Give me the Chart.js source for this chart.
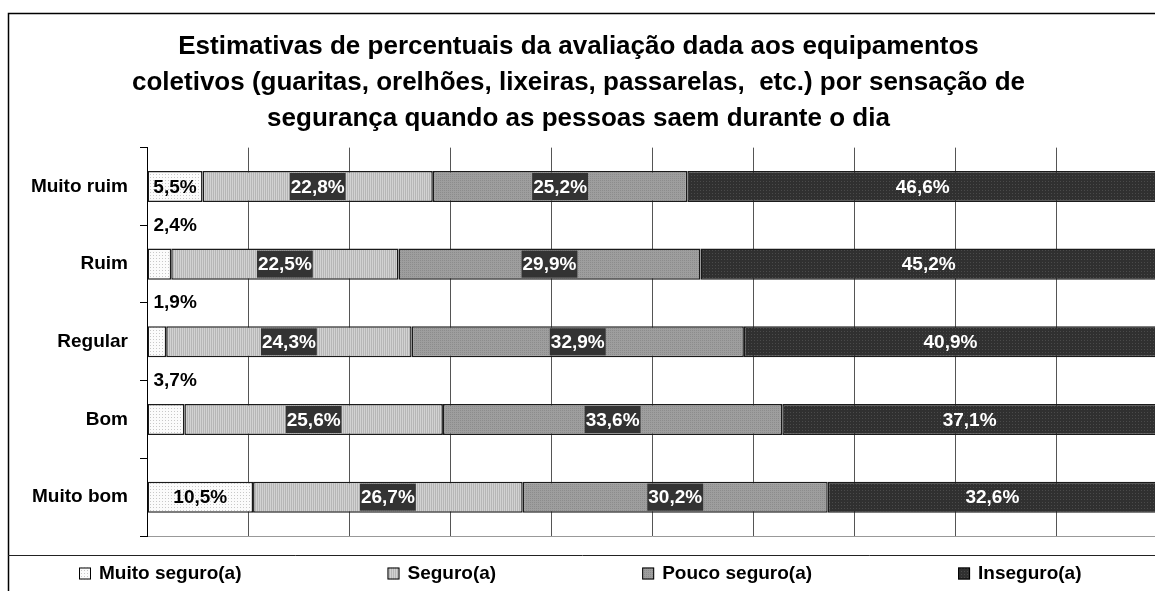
<!DOCTYPE html>
<html>
<head>
<meta charset="utf-8">
<script src="https://cdn.jsdelivr.net/npm/chart.js@4.4.1/dist/chart.umd.min.js"></script>
<style>
  html, body { margin: 0; padding: 0; background: #fff; overflow: hidden; }
  #wrap { position: absolute; left: 0; top: 0; width: 1157px; height: 600px; }
</style>
</head>
<body>
<div id="wrap"><canvas id="chart" width="1157" height="600"></canvas></div>
<script>
const categories = ["Muito ruim", "Ruim", "Regular", "Bom", "Muito bom"];
const seriesNames = ["Muito seguro(a)", "Seguro(a)", "Pouco seguro(a)", "Inseguro(a)"];
const muitoSeguro = [5.5, 2.4, 1.9, 3.7, 10.5];
const seguro = [22.8, 22.5, 24.3, 25.6, 26.7];
const poucoSeguro = [25.2, 29.9, 32.9, 33.6, 30.2];
const inseguro = [46.6, 45.2, 40.9, 37.1, 32.6];
const titleLines = [
  "Estimativas de percentuais da avaliação dada aos equipamentos",
  "coletivos (guaritas, orelhões, lixeiras, passarelas,  etc.) por sensação de",
  "segurança quando as pessoas saem durante o dia"
];

const FONT = '"Liberation Sans", Arial, sans-serif';
const canvas = document.getElementById("chart");
const mainCtx = canvas.getContext("2d");

// small tiles, like the old excel fill textures
function makePattern(w, h, base, dots) {
  const c = document.createElement("canvas");
  c.width = w;
  c.height = h;
  const g = c.getContext("2d");
  g.fillStyle = base;
  g.fillRect(0, 0, w, h);
  dots.forEach(function (d) {
    g.fillStyle = d[2];
    g.fillRect(d[0], d[1], 1, 1);
  });
  return mainCtx.createPattern(c, "repeat");
}

const fills = [
  makePattern(3, 3, "#fbfbfb", [[0, 0, "#c8c8c8"]]),
  makePattern(2, 2, "#d2d2d2", [[1, 0, "#b6b6b6"], [1, 1, "#b6b6b6"]]),
  makePattern(2, 2, "#9e9e9e", [[0, 0, "#8c8c8c"]]),
  makePattern(3, 3, "#303030", [[1, 1, "#4a4a4a"]])
];
const seriesValues = [muitoSeguro, seguro, poucoSeguro, inseguro];

function fmt(v) {
  return v.toFixed(1).replace(".", ",") + "%";
}

const valueLabels = {
  id: "valueLabels",
  afterDatasetsDraw(chart) {
    const ctx = chart.ctx;
    const band = chart.scales.y.height / categories.length;
    ctx.save();
    ctx.font = "bold 19px " + FONT;
    ctx.textBaseline = "middle";
    chart.data.datasets.forEach(function (ds, di) {
      chart.getDatasetMeta(di).data.forEach(function (bar, i) {
        const p = bar.getProps(["x", "y", "base", "height"], true);
        const v = ds.data[i];
        const text = fmt(v);
        const w = ctx.measureText(text).width;
        const cx = (p.x + p.base) / 2;
        const cy = p.y + 1;
        if (di === 0) {
          ctx.fillStyle = "#000";
          if (v < 5) {
            // too thin, label goes above the bar
            ctx.textAlign = "left";
            ctx.fillText(text, p.base + 6, p.y - band / 2);
          } else {
            ctx.textAlign = "center";
            ctx.fillText(text, cx, cy);
          }
          return;
        }
        if (di !== 3) {
          ctx.fillStyle = "#333";
          ctx.fillRect(cx - w / 2 - 1, p.y - p.height / 2 + 2, w + 2, p.height - 4);
        }
        ctx.fillStyle = "#fff";
        ctx.textAlign = "center";
        ctx.fillText(text, cx, cy);
      });
    });
    ctx.restore();
  }
};

const frameAndLegend = {
  id: "frameAndLegend",
  afterDraw(chart) {
    const ctx = chart.ctx;
    const area = chart.chartArea;
    ctx.save();
    ctx.strokeStyle = "#000";
    ctx.lineWidth = 1.5;
    ctx.strokeRect(8.5, 13.5, chart.width, chart.height);

    const legendTop = Math.round(area.bottom + 19) + 0.5;
    ctx.lineWidth = 1;
    ctx.strokeStyle = "#222";
    ctx.beginPath();
    ctx.moveTo(8, legendTop);
    ctx.lineTo(chart.width, legendTop);
    ctx.stroke();

    ctx.font = "bold 19px " + FONT;
    ctx.textBaseline = "middle";
    ctx.textAlign = "left";
    const box = 12, boxGap = 8, gap = 146;
    const widths = seriesNames.map(function (n) {
      return box + boxGap + ctx.measureText(n).width;
    });
    const total = widths.reduce(function (a, b) { return a + b; }, 0) + gap * (widths.length - 1);
    let x = Math.round((chart.width - total) / 2) + 2;
    const y = legendTop + 18;
    seriesNames.forEach(function (n, i) {
      ctx.fillStyle = fills[i];
      ctx.fillRect(x, y - 6, box, box);
      ctx.strokeStyle = "#000";
      ctx.strokeRect(x + 0.5, y - 5.5, box - 1, box - 1);
      ctx.fillStyle = "#000";
      ctx.fillText(n, x + box + boxGap, y);
      x += widths[i] + gap;
    });
    ctx.restore();
  }
};

new Chart(canvas, {
  type: "bar",
  data: {
    labels: categories,
    datasets: seriesNames.map(function (name, i) {
      return {
        label: name,
        data: seriesValues[i],
        backgroundColor: fills[i],
        borderColor: "#1a1a1a",
        borderWidth: 1.5,
        borderSkipped: false,
        barPercentage: 0.4,
        categoryPercentage: 1
      };
    })
  },
  options: {
    indexAxis: "y",
    responsive: false,
    animation: false,
    layout: { padding: { left: 0, right: 0, top: 13, bottom: 64 } },
    plugins: {
      legend: { display: false },
      tooltip: { enabled: false },
      title: {
        display: true,
        text: titleLines,
        color: "#000",
        font: { family: FONT, size: 26, weight: "bold", lineHeight: 1.38 },
        padding: { top: 16, bottom: 11 }
      }
    },
    scales: {
      x: {
        stacked: true,
        min: 0,
        max: 100,
        ticks: { display: false },
        grid: { color: "#555", drawTicks: false },
        border: { color: "#999" }
      },
      y: {
        stacked: true,
        ticks: { color: "#000", font: { family: FONT, size: 19, weight: "bold" }, padding: 12 },
        grid: { offset: true, drawOnChartArea: false, tickLength: 7, color: "#000" },
        border: { color: "#000" },
        afterFit: function (s) { s.width = 147; }
      }
    }
  },
  plugins: [valueLabels, frameAndLegend]
});
</script>
</body>
</html>
